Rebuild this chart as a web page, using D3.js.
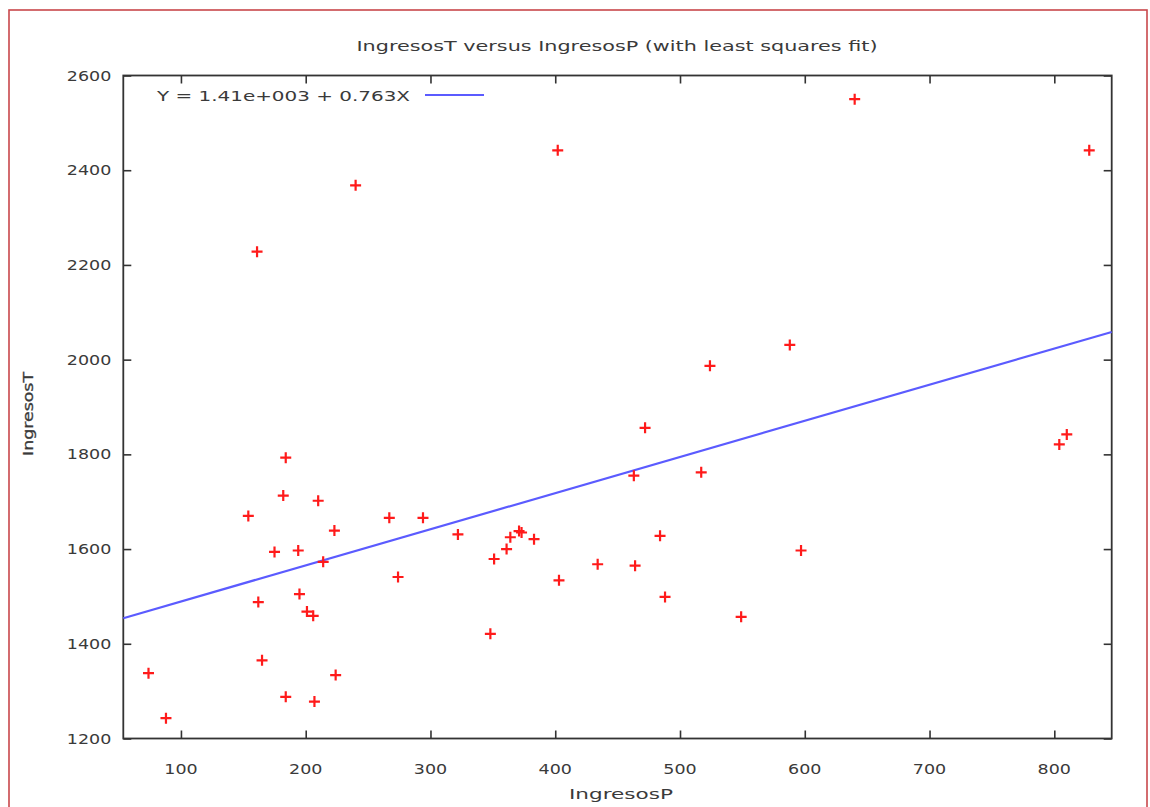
<!DOCTYPE html>
<html>
<head>
<meta charset="utf-8">
<script src="https://cdn.jsdelivr.net/npm/d3@7"></script>
<style>
  html, body { margin: 0; padding: 0; background: #ffffff; }
  svg { display: block; }
  text { font-family: "DejaVu Sans", Verdana, sans-serif; fill: #3a3a3a; }
</style>
</head>
<body>
<svg id="chart" width="1150" height="807"></svg>
<script>
// ---- data ----
const ingresosP = [240, 161, 402, 524, 588, 640, 828, 184, 182, 210, 154, 267, 294, 322, 223, 175,
  194, 214, 274, 195, 162, 201, 206, 165, 74, 224, 184, 207, 88, 472, 463, 517, 371, 373, 364, 383,
  361, 351, 484, 434, 464, 403, 488, 549, 348, 597, 804, 810];
const ingresosT = [2368, 2228, 2442, 1987, 2031, 2550, 2442, 1793, 1713, 1702, 1670, 1666, 1666, 1631, 1639, 1594,
  1597, 1573, 1541, 1505, 1488, 1468, 1459, 1365, 1338, 1334, 1288, 1278, 1243, 1856, 1755, 1762, 1638, 1635, 1625, 1621,
  1600, 1579, 1628, 1568, 1565, 1534, 1499, 1457, 1421, 1597, 1821, 1842];
const xTicks = [100, 200, 300, 400, 500, 600, 700, 800];
const yTicks = [1200, 1400, 1600, 1800, 2000, 2200, 2400, 2600];
const xDomain = [53.8, 846];
const yDomain = [1200, 2600];
const fitIntercept = 1413;
const fitSlope = 0.763;
const titleText = "IngresosT versus IngresosP (with least squares fit)";
const legendText = "Y = 1.41e+003 + 0.763X";
const xTitle = "IngresosP";
const yTitle = "IngresosT";

// ---- layout ----
const svg = d3.select("#chart");
const L = 123.3, R = 1111.7, T = 75.5, B = 738.5;
const SX = 1.25; // horizontal stretch of digits as in the reference
const x = d3.scaleLinear().domain(xDomain).range([L, R]);
const y = d3.scaleLinear().domain(yDomain).range([B, T]);

// outer frame
svg.append("rect").attr("x", 9).attr("y", 10).attr("width", 1138).attr("height", 810)
  .attr("fill", "#ffffff").attr("stroke", "#c9484b").attr("stroke-width", 1.6);

function stretchedText(g, tx, ty, str, anchor, size) {
  return g.append("text")
    .attr("transform", `translate(${tx},${ty}) scale(${SX},1)`)
    .attr("text-anchor", anchor)
    .attr("font-size", size)
    .text(str);
}
function fittedText(g, tx, ty, str, anchor, size, len) {
  const t = g.append("text")
    .attr("x", tx).attr("y", ty)
    .attr("font-size", size)
    .attr("textLength", len).attr("lengthAdjust", "spacingAndGlyphs")
    .text(str);
  if (anchor === "middle") t.attr("x", tx - len / 2);
  return t;
}

// axes with inward ticks on all sides
const tickLen = 8;
const axisStyle = sel => {
  sel.select(".domain").remove();
  sel.selectAll("line").attr("stroke", "#333").attr("stroke-width", 1.6);
  sel.selectAll("text").remove();
};
svg.append("g").attr("transform", `translate(0,${B})`)
  .call(d3.axisBottom(x).tickValues(xTicks).tickSizeInner(-tickLen).tickSizeOuter(0)).call(axisStyle);
svg.append("g").attr("transform", `translate(0,${T})`)
  .call(d3.axisTop(x).tickValues(xTicks).tickSizeInner(-tickLen).tickSizeOuter(0)).call(axisStyle);
svg.append("g").attr("transform", `translate(${L},0)`)
  .call(d3.axisLeft(y).tickValues(yTicks).tickSizeInner(-tickLen).tickSizeOuter(0)).call(axisStyle);
svg.append("g").attr("transform", `translate(${R},0)`)
  .call(d3.axisRight(y).tickValues(yTicks).tickSizeInner(-tickLen).tickSizeOuter(0)).call(axisStyle);

// tick labels
const labels = svg.append("g");
xTicks.forEach(v => stretchedText(labels, x(v), B + 35, String(v), "middle", 14));
yTicks.forEach(v => stretchedText(labels, L - 12, y(v) + 5, String(v), "end", 14));

// plot frame
svg.append("rect").attr("x", L).attr("y", T).attr("width", R - L).attr("height", B - T)
  .attr("fill", "none").attr("stroke", "#333").attr("stroke-width", 1.8);

// fitted line
svg.append("line")
  .attr("x1", x(xDomain[0])).attr("y1", y(fitIntercept + fitSlope * xDomain[0]))
  .attr("x2", x(xDomain[1])).attr("y2", y(fitIntercept + fitSlope * xDomain[1]))
  .attr("stroke", "#5b5bff").attr("stroke-width", 2.2);

// points as "+" markers
const pts = d3.range(ingresosP.length).map(i => ({ px: ingresosP[i], py: ingresosT[i] }));
const s = 5.5;
svg.append("g").selectAll("path").data(pts).join("path")
  .attr("d", d => `M${x(d.px) - s},${y(d.py)}H${x(d.px) + s}M${x(d.px)},${y(d.py) - s}V${y(d.py) + s}`)
  .attr("stroke", "#ff1a1a").attr("stroke-width", 2.2).attr("fill", "none");

// legend
fittedText(svg, 157, 101, legendText, "start", 14, 253);
svg.append("line").attr("x1", 425).attr("x2", 484).attr("y1", 95).attr("y2", 95)
  .attr("stroke", "#5b5bff").attr("stroke-width", 2.2);

// titles
fittedText(svg, 617, 51, titleText, "middle", 14, 521);
fittedText(svg, 621, 799, xTitle, "middle", 14, 104);
svg.append("text")
  .attr("transform", `translate(33,414) rotate(-90)`)
  .attr("x", -42).attr("font-size", 14)
  .attr("textLength", 84).attr("lengthAdjust", "spacingAndGlyphs")
  .attr("stroke", "#3a3a3a").attr("stroke-width", 0.3)
  .text(yTitle);
</script>
</body>
</html>
